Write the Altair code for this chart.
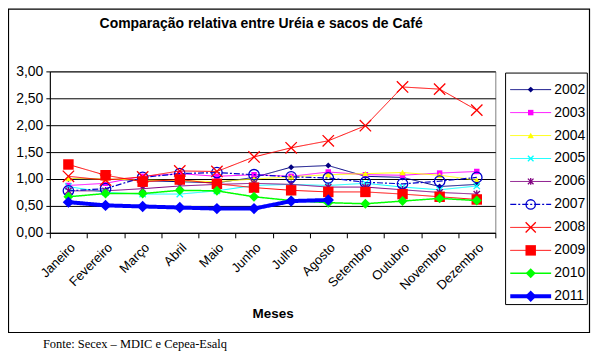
import altair as alt
import pandas as pd

months = ["Janeiro", "Fevereiro", "Março", "Abril", "Maio", "Junho", "Julho",
          "Agosto", "Setembro", "Outubro", "Novembro", "Dezembro"]
years = ["2002", "2003", "2004", "2005", "2006", "2007", "2008", "2009", "2010", "2011"]

v2002 = [1.00, 1.00, 0.97, 0.95, 0.93, 1.03, 1.22, 1.25, 1.05, 1.03, 0.86, 0.90]
v2003 = [0.88, 0.92, 1.05, 1.10, 1.05, 1.08, 1.05, 1.13, 1.08, 1.07, 1.11, 1.14]
v2004 = [1.01, 1.00, 0.98, 0.97, 0.95, 1.00, 1.04, 1.08, 1.10, 1.12, 1.07, 0.98]
v2005 = [0.86, 0.75, 0.72, 0.72, 0.78, 0.88, 0.90, 0.88, 0.92, 0.85, 0.80, 0.87]
v2006 = [0.78, 0.78, 0.82, 0.87, 0.90, 0.92, 0.90, 0.85, 0.85, 0.80, 0.75, 0.72]
v2007 = [0.78, 0.82, 1.03, 1.10, 1.12, 1.08, 1.04, 1.02, 0.94, 0.91, 0.96, 1.03]
v2008 = [1.05, 0.98, 1.04, 1.15, 1.14, 1.41, 1.58, 1.71, 1.99, 2.71, 2.67, 2.28]
v2009 = [1.27, 1.07, 0.95, 0.99, 0.91, 0.84, 0.79, 0.76, 0.76, 0.72, 0.67, 0.62]
v2010 = [0.67, 0.73, 0.73, 0.79, 0.78, 0.67, 0.60, 0.56, 0.54, 0.59, 0.64, 0.60]
v2011 = [0.57, 0.51, 0.49, 0.47, 0.45, 0.45, 0.59, 0.61]
series_values = [v2002, v2003, v2004, v2005, v2006, v2007, v2008, v2009, v2010, v2011]

y_ticks = [0, 0.5, 1.0, 1.5, 2.0, 2.5, 3.0]

title_text = "Comparação relativa entre Uréia e sacos de Café"
x_title = "Meses"
footer_text = "Fonte: Secex – MDIC e Cepea-Esalq"

# styles
X_PATH = "M-1,-1L1,1M-1,1L1,-1"
STAR_PATH = "M-1,-1L1,1M-1,1L1,-1M0,-1.2L0,1.2"
styles = {
    "2002": dict(color="#000080", lw=1, shape="diamond", size=36, filled=True, dash=[1, 0]),
    "2003": dict(color="#FF00FF", lw=1, shape="square", size=30, filled=True, dash=[1, 0]),
    "2004": dict(color="#FFFF00", lw=1, shape="triangle-up", size=40, filled=True, dash=[1, 0]),
    "2005": dict(color="#00FFFF", lw=1, shape=X_PATH, size=40, filled=False, dash=[1, 0]),
    "2006": dict(color="#800080", lw=1, shape=STAR_PATH, size=40, filled=False, dash=[1, 0]),
    "2007": dict(color="#0000CC", lw=1.2, shape="circle", size=110, filled=False, dash=[6, 2, 2, 2]),
    "2008": dict(color="#FF0000", lw=1, shape=X_PATH, size=130, filled=False, dash=[1, 0]),
    "2009": dict(color="#FF0000", lw=1, shape="square", size=110, filled=True, dash=[1, 0]),
    "2010": dict(color="#00FF00", lw=1.5, shape="diamond", size=100, filled=True, dash=[1, 0]),
    "2011": dict(color="#0000FF", lw=4, shape="diamond", size=130, filled=True, dash=[1, 0]),
}

W, H = 447, 162
FONT = "Liberation Sans"

xscale = alt.Scale(type="band", domain=months, paddingInner=0, paddingOuter=0)
yscale = alt.Scale(domain=[0, 3], nice=False)
xaxis = alt.Axis(title=x_title, tickBand="extent", labelAngle=315, labelFontSize=13,
                 labelFont=FONT, labelColor="black", domainColor="black", tickColor="black",
                 tickSize=5, labelPadding=3, titleFontSize=13.5, titleFont=FONT,
                 titleFontWeight="bold", titleColor="black", titlePadding=14, grid=False)
yaxis = alt.Axis(title=None, values=y_ticks,
                 labelExpr="replace(format(datum.value, '.2f'), '.', ',')",
                 labelFontSize=14, labelFont=FONT, labelColor="black", domainColor="black",
                 tickColor="black", tickSize=4, labelPadding=3, grid=True,
                 gridColor="black", gridOpacity=1)

main_layers = []
for yr, vals in zip(years, series_values):
    st = styles[yr]
    df = pd.DataFrame({"Mes": months[:len(vals)], "valor": vals, "ano": yr})
    enc = dict(x=alt.X("Mes:N", sort=months, scale=xscale, axis=xaxis),
               y=alt.Y("valor:Q", scale=yscale, axis=yaxis))
    line = alt.Chart(df).mark_line(color=st["color"], strokeWidth=st["lw"],
                                   strokeDash=st["dash"]).encode(**enc)
    if st["filled"]:
        pt = alt.Chart(df).mark_point(shape=st["shape"], size=st["size"], filled=True,
                                      fill=st["color"], color=st["color"], opacity=1,
                                      strokeWidth=0.5).encode(**enc)
    else:
        pt = alt.Chart(df).mark_point(shape=st["shape"], size=st["size"], filled=False,
                                      color=st["color"], opacity=1,
                                      strokeWidth=1.3).encode(**enc)
    main_layers += [line, pt]

# decorations (text / frames)
outer_box = alt.Chart(pd.DataFrame({"a": [0]})).mark_rect(
    fill=None, stroke="black", strokeWidth=1.2).encode(
    x=alt.value(-41.5), x2=alt.value(541.5), y=alt.value(-62.5), y2=alt.value(262))
title_mark = alt.Chart(pd.DataFrame({"t": [title_text]})).mark_text(
    font="Liberation Sans Narrow, Liberation Sans", fontSize=14, fontWeight="bold",
    align="center", baseline="alphabetic", color="black").encode(
    text="t:N", x=alt.value(212), y=alt.value(-44))
footer_mark = alt.Chart(pd.DataFrame({"t": [footer_text]})).mark_text(
    font="Liberation Serif", fontSize=12.5, align="left", baseline="alphabetic",
    color="black").encode(text="t:N", x=alt.value(-7), y=alt.value(278))

main = alt.layer(*main_layers, outer_box, title_mark, footer_mark)

# legend built from the same style table through its own scales
leg_rows = []
for i, yr in enumerate(years):
    leg_rows.append({"ano": yr, "idx": i, "lx": 0.0})
    leg_rows.append({"ano": yr, "idx": i, "lx": 1.0})
leg_df = pd.DataFrame(leg_rows)
lxs = alt.Scale(domain=[0, 1], range=[462, 503])
lys = alt.Scale(domain=[0, 9], range=[18.3, 225.7])

legend_layers = [alt.Chart(pd.DataFrame({"a": [0]})).mark_rect(
    fill="white", stroke="black", strokeWidth=1).encode(
    x=alt.value(457.3), x2=alt.value(539.3), y=alt.value(1.7), y2=alt.value(234))]
for i, yr in enumerate(years):
    st = styles[yr]
    d = leg_df[leg_df["ano"] == yr]
    enc = dict(x=alt.X("lx:Q", scale=lxs, axis=None), y=alt.Y("idx:Q", scale=lys, axis=None))
    legend_layers.append(alt.Chart(d).mark_line(color=st["color"], strokeWidth=st["lw"],
                                                strokeDash=st["dash"]).encode(**enc))
    dm = d.groupby("ano", as_index=False).agg(idx=("idx", "first"), lx=("lx", "mean"))
    if st["filled"]:
        legend_layers.append(alt.Chart(dm).mark_point(shape=st["shape"], size=st["size"],
                                                      filled=True, fill=st["color"],
                                                      color=st["color"], opacity=1).encode(**enc))
    else:
        legend_layers.append(alt.Chart(dm).mark_point(shape=st["shape"], size=st["size"] * 0.8,
                                                      filled=False, color=st["color"], opacity=1,
                                                      strokeWidth=1.3).encode(**enc))
    txt = d[d["lx"] == 1.0]
    legend_layers.append(alt.Chart(txt).mark_text(font=FONT, fontSize=14, align="left",
                                                  baseline="middle", dx=3, color="black").encode(
        text="ano:N", **enc))

legend = alt.layer(*legend_layers)

chart = alt.layer(main, legend).resolve_scale(x="independent", y="independent").properties(
    width=W, height=H, autosize="none",
    padding={"left": 42, "top": 63, "right": 96, "bottom": 122},
    background="white",
).configure_view(stroke="#808080")

chart.save("out.html", embed_options={"renderer": "svg", "actions": False})
